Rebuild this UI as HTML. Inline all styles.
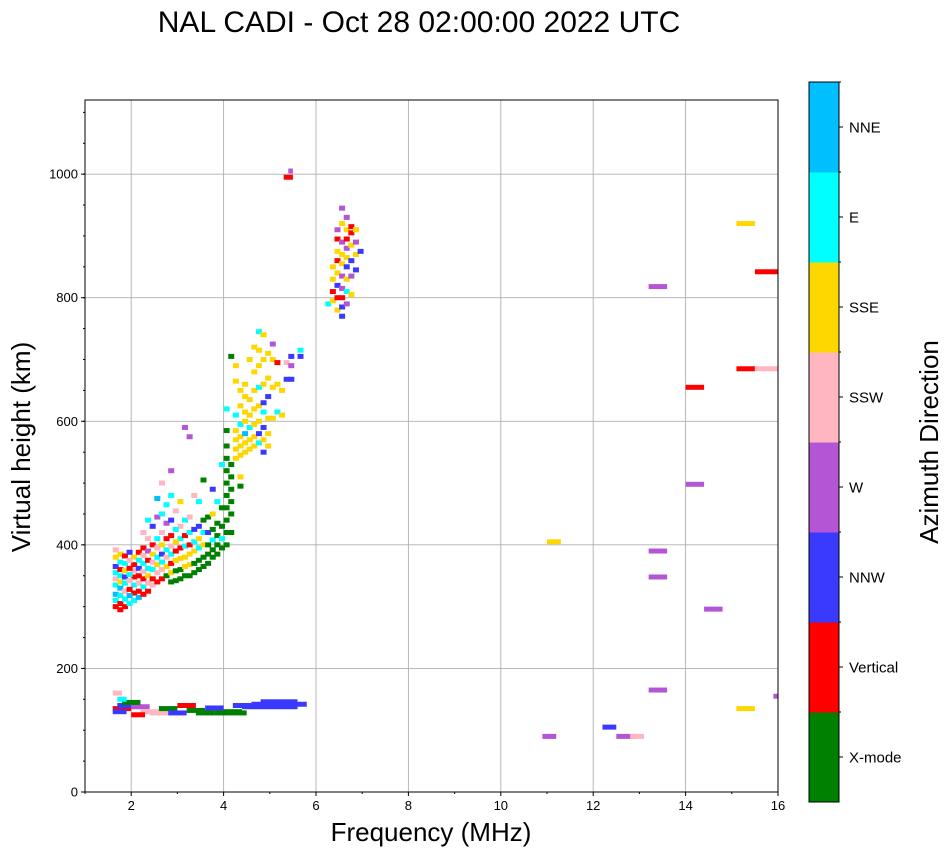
<!DOCTYPE html>
<html><head><meta charset="utf-8"><style>
body{margin:0;background:#fff;width:951px;height:856px;overflow:hidden}
svg text{font-family:"Liberation Sans","DejaVu Sans",sans-serif}
</style></head><body>
<svg id="chart" width="951" height="856" xmlns="http://www.w3.org/2000/svg">
<text x="419" y="32" font-size="30" text-anchor="middle">NAL CADI - Oct 28 02:00:00 2022 UTC</text>
<g id="grid"></g>
<g id="marks"></g>
<rect x="85" y="100" width="693" height="692" fill="none" stroke="#000" stroke-width="1"/>
<g id="axes"></g>
<text x="431" y="841" font-size="26" text-anchor="middle">Frequency (MHz)</text>
<text transform="translate(30,447) rotate(-90)" font-size="26" text-anchor="middle">Virtual height (km)</text>
<g id="cbar"></g>
<text transform="translate(938,442) rotate(-90)" font-size="26" text-anchor="middle">Azimuth Direction</text>
</svg>
<script>
const dirNames=["X-mode","Vertical","NNW","W","SSW","SSE","E","NNE"];
const dirColors=["#008000","#ff0000","#3a3aff","#b455d6","#ffb6c1","#ffd700","#00ffff","#00bfff"];
const xTicks=[2,4,6,8,10,12,14,16];
const yTicks=[0,200,400,600,800,1000];
// cells: freq, height, direction index
const cellFreq=[];const cellHeight=[];const cellDir=[];
const cellText={
1.6:"300 1,310 6,320 7,335 6,345 4,355 6,365 2,380 5,392 4",
1.7:"295 1,305 1,318 6,330 7,340 5,350 6,360 1,372 6,385 5",
1.8:"300 1,312 6,325 4,338 6,348 2,358 5,370 6,382 1",
1.9:"305 6,318 7,328 1,342 4,352 6,362 1,375 4,388 2",
2.0:"310 6,322 1,335 6,348 1,358 4,368 1,380 5",
2.1:"315 7,325 1,338 4,350 1,362 2,375 6,388 1",
2.2:"320 1,332 6,345 1,357 4,370 6,383 4,395 1,420 4",
2.3:"325 1,338 4,350 5,362 6,375 1,390 3,410 4,440 6",
2.4:"335 4,345 1,360 6,372 4,385 5,400 1,430 2",
2.5:"340 1,355 4,368 5,380 6,395 4,410 6,445 3,475 7",
2.6:"345 1,360 4,372 6,385 2,400 5,420 4,450 6,500 4",
2.7:"350 0,365 5,380 4,392 6,410 1,435 3,465 6",
2.8:"340 0,355 5,370 1,385 6,398 4,415 1,440 2,480 6,520 3",
2.9:"342 0,358 0,375 5,390 1,405 5,425 6,455 4",
3.0:"345 0,360 0,378 5,395 1,410 6,430 4,470 5",
3.1:"350 0,365 5,380 5,398 6,415 1,440 6,590 3",
3.2:"350 0,368 5,385 5,400 1,420 6,445 4,575 3",
3.3:"355 0,370 0,390 5,405 6,425 2,480 4",
3.4:"360 0,375 0,395 6,410 5,430 2,470 6",
3.5:"365 0,380 0,400 5,420 6,440 0,505 0",
3.6:"370 0,385 0,400 0,420 2,445 0",
3.7:"380 0,392 0,408 6,425 0,450 5,490 2",
3.8:"385 0,400 0,415 0,435 0,470 6",
3.9:"395 0,410 6,430 0,460 0,530 6",
4.0:"400 0,420 0,440 0,460 0,480 0,500 0,520 0,540 0,560 0,585 0,620 6",
4.1:"420 0,450 0,470 0,490 0,510 0,530 0,705 0",
4.2:"540 5,555 5,570 5,585 5,610 6,665 5,690 5",
4.3:"545 5,560 5,575 5,595 6,625 5,650 5,495 0,510 5",
4.4:"550 5,565 5,580 7,600 5,615 5,640 5,660 5",
4.5:"555 5,570 5,590 6,610 5,635 5,700 5",
4.6:"560 5,575 5,595 5,620 5,650 5,680 5,720 5",
4.7:"565 6,580 2,600 5,625 5,655 6,690 5,715 5,745 6",
4.8:"550 2,570 5,590 2,615 6,630 2,660 5,700 5,740 5",
4.9:"560 5,580 5,605 5,640 2,670 5,710 5",
5.0:"605 5,655 5,700 5,725 3",
5.1:"615 6,660 5,695 1",
5.2:"610 5,650 5",
5.3:"668 2,695 4",
5.4:"668 2,690 3,705 2",
5.6:"705 2,715 6",
6.2:"790 6",
6.3:"795 5,810 1,830 5,850 5",
6.4:"780 5,800 1,820 2,840 5,860 1,875 5,895 1,910 3",
6.5:"770 2,785 2,800 1,815 3,835 3,855 5,870 5,890 3,920 5,945 3",
6.6:"790 3,810 6,830 5,850 2,865 5,880 3,895 1,910 5,930 3",
6.7:"805 5,835 3,860 2,885 5,905 1,915 1",
6.8:"845 2,870 5,890 3,910 5",
6.9:"875 2"};
for(const k in cellText){cellText[k].split(",").forEach(p=>{const a=p.split(" ");cellFreq.push(+k);cellHeight.push(+a[0]);cellDir.push(+a[1]);});}
// segments: freq start, freq end, height, direction
const segLo=[1.6,1.6,1.7,2.0,2.2,2.4,2.6,2.8,3.0,3.2,3.4,3.6,3.8,4.0,4.2,4.4,4.6,4.8,1.8,2.0,1.6,1.7,5.3,5.4,11.0,10.9,13.2,13.2,13.2,13.2,14.0,14.0,14.4,15.1,15.1,15.5,15.1,15.5,12.2,12.5,12.8,15.9];
const segHi=[2.0,1.9,2.1,2.4,2.6,2.8,3.0,3.2,3.4,3.6,3.8,4.0,4.5,4.4,4.6,5.6,5.8,5.6,2.2,2.3,1.8,1.9,5.5,5.5,11.3,11.2,13.6,13.6,13.6,13.6,14.4,14.4,14.8,15.5,15.5,16.0,15.5,16.0,12.5,12.9,13.1,16.0];
const segH=[135,130,140,138,130,128,135,128,140,132,128,136,128,130,140,138,142,146,145,125,160,150,995,1005,405,90,390,348,165,818,498,655,296,920,685,685,135,842,105,90,90,155];
const segDir=[1,2,2,3,4,4,0,2,1,0,0,2,0,0,2,2,2,2,0,1,4,6,1,3,5,3,3,3,3,3,3,1,3,5,1,4,5,1,2,3,4,3];

const NS="http://www.w3.org/2000/svg";
const X0=85,X1=778,Y0=792,Y1=100,XMIN=1,XMAX=16,YMIN=0,YMAX=1120;
const xs=v=>X0+(v-XMIN)/(XMAX-XMIN)*(X1-X0);
const ys=v=>Y0-(v-YMIN)/(YMAX-YMIN)*(Y0-Y1);
function mk(tag,attrs,parent){const e=document.createElementNS(NS,tag);for(const k in attrs)e.setAttribute(k,attrs[k]);parent.appendChild(e);return e;}
const grid=document.getElementById("grid"),axes=document.getElementById("axes"),marks=document.getElementById("marks"),cbar=document.getElementById("cbar");
xTicks.forEach(t=>{
 const g=mk("line",{x1:xs(t),x2:xs(t),y1:Y1,y2:Y0,stroke:"#b0b0b0","stroke-width":0.9},grid);
 
 
 mk("line",{x1:xs(t),x2:xs(t),y1:Y0,y2:Y0+4,stroke:"#000"},axes);
 const tx=mk("text",{x:xs(t),y:Y0+18,"font-size":13,"text-anchor":"middle"},axes);tx.textContent=t;
 
 
});
for(let t=1;t<=16;t+=2){mk("line",{x1:xs(t),x2:xs(t),y1:Y0,y2:Y0+2,stroke:"#000"},axes);}
yTicks.forEach(t=>{
 const g=mk("line",{x1:X0,x2:X1,y1:ys(t),y2:ys(t),stroke:"#b0b0b0","stroke-width":0.9},grid);
 
 
 mk("line",{x1:X0-4,x2:X0,y1:ys(t),y2:ys(t),stroke:"#000"},axes);
 const tx=mk("text",{x:X0-7,y:ys(t)+4.5,"font-size":13,"text-anchor":"end"},axes);tx.textContent=t;
 
 
});
for(let t=50;t<=1100;t+=50){mk("line",{x1:X0-2,x2:X0,y1:ys(t),y2:ys(t),stroke:"#000"},axes);}
for(let i=0;i<segLo.length;i++){
 const r=mk("rect",{x:xs(segLo[i]),y:ys(segH[i])-2.5,width:xs(segHi[i])-xs(segLo[i]),height:5,fill:dirColors[segDir[i]]},marks);
 
 
}
for(let i=0;i<cellFreq.length;i++){
 const r=mk("rect",{x:xs(cellFreq[i]),y:ys(cellHeight[i])-2.5,width:xs(cellFreq[i]+0.13)-xs(cellFreq[i]),height:5,fill:dirColors[cellDir[i]]},marks);
 
 
}
const CX=809,CW=30,CT=82,CB=802,seg=(CB-CT)/dirNames.length;
dirNames.forEach((n,i)=>{
 const y=CB-(i+1)*seg;
 const r=mk("rect",{x:CX,y:y,width:CW,height:seg+0.5,fill:dirColors[i]},cbar);
 
 
 mk("line",{x1:CX+CW,x2:CX+CW+4,y1:y+seg/2,y2:y+seg/2,stroke:"#000"},cbar);
 mk("line",{x1:CX+CW,x2:CX+CW+2,y1:y,y2:y,stroke:"#000"},cbar);
 const t=mk("text",{x:CX+CW+10,y:y+seg/2+5.5,"font-size":15},cbar);t.textContent=n;
 
 
});
mk("rect",{x:CX,y:CT,width:CW,height:CB-CT,fill:"none",stroke:"#000"},cbar);
</script>
</body></html>
